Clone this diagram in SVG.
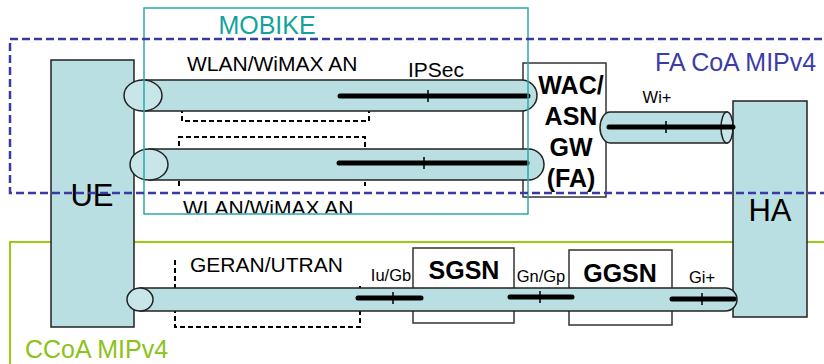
<svg xmlns="http://www.w3.org/2000/svg" width="824" height="364" viewBox="0 0 824 364">
  <style>
    .box { fill: #badfe2; stroke: #222; stroke-width: 1.5; }
    .wbox { fill: #fff; stroke: #333; stroke-width: 1.5; }
    .tube { fill: #badfe2; stroke: #222; stroke-width: 1.5; }
    .cap { fill: #c8e6e9; stroke: #222; stroke-width: 1.5; }
    .pipe { stroke: #000; stroke-width: 5; stroke-linecap: round; fill: none; }
    .tick { stroke: #000; stroke-width: 1.5; }
    .an { fill: none; stroke: #000; stroke-width: 2; stroke-dasharray: 5 3; }
    .t { font-family: "Liberation Sans", Arial, sans-serif; fill: #000; }
    .lbl { font-family: "Liberation Sans", Arial, sans-serif; fill: #000; font-size: 16.5px; text-anchor: middle; }
    .b { font-family: "Liberation Sans", Arial, sans-serif; font-weight: bold; fill: #000; text-anchor: middle; }
  </style>
  <defs>
    <clipPath id="clipLow"><rect x="0" y="0" width="824" height="213.5"/></clipPath>
  </defs>

  <!-- CCoA MIPv4 domain (behind nodes) -->
  <g id="ccoa">
    <rect x="10" y="242" width="830" height="140" fill="none" stroke="#99cc11" stroke-width="2"/>
    <text class="t" x="25" y="358" font-size="25" style="fill:#8cc21a">CCoA MIPv4</text>
  </g>

  <!-- Access network outlines -->
  <g id="access-networks">
    <path class="an" d="M182,100 V121 H369 V100"/>
    <path class="an" d="M179,186 V137 H365 V186"/>
    <path class="an" d="M175,260 V327 H360 V285"/>
    <text class="t" x="187" y="71" font-size="21">WLAN/WiMAX AN</text>
    <text class="t" x="183" y="215" font-size="21" clip-path="url(#clipLow)">WLAN/WiMAX AN</text>
    <text class="t" x="190" y="272" font-size="21">GERAN/UTRAN</text>
  </g>

  <g id="UE">
    <rect class="box" x="51" y="60" width="83" height="267"/>
    <text class="t" x="92" y="206" font-size="31" text-anchor="middle">UE</text>
  </g>

  <g id="HA">
    <rect class="box" x="733" y="101" width="74" height="216"/>
    <text class="t" x="770" y="221" font-size="31" text-anchor="middle">HA</text>
  </g>

  <g id="SGSN">
    <rect class="wbox" x="413" y="248" width="101" height="75"/>
    <text class="b" x="464" y="279" font-size="25">SGSN</text>
  </g>

  <g id="GGSN">
    <rect class="wbox" x="569" y="250" width="103" height="75"/>
    <text class="b" x="620" y="282" font-size="25">GGSN</text>
  </g>

  <g id="WAC">
    <rect class="wbox" x="523" y="63" width="83" height="134"/>
    <text class="b" x="571" y="94" font-size="25">WAC/</text>
    <text class="b" x="571" y="125" font-size="25">ASN</text>
    <text class="b" x="571" y="156" font-size="25">GW</text>
    <text class="b" x="571" y="187" font-size="25">(FA)</text>
  </g>

  <!-- Tunnels -->
  <g id="connectors">
    <!-- WLAN/WiMAX tunnel 1 -->
    <path class="tube" d="M143,80 H521.5 A15.5,15.5 0 0 1 521.5,111 H143 Z"/>
    <ellipse class="cap" cx="143" cy="95.5" rx="19" ry="15.5"/>
    <line class="pipe" x1="340" y1="96" x2="528" y2="96"/>
    <line class="tick" x1="428" y1="90" x2="428" y2="102"/>

    <!-- WLAN/WiMAX tunnel 2 -->
    <path class="tube" d="M149,149 H528.5 A15.5,15.5 0 0 1 528.5,180 H149 Z"/>
    <ellipse class="cap" cx="149" cy="164.5" rx="19" ry="15.5"/>
    <line class="pipe" x1="339" y1="163" x2="527" y2="163"/>
    <line class="tick" x1="424" y1="157" x2="424" y2="169"/>

    <!-- Wi+ tunnel -->
    <path class="tube" d="M727,112 H610 A10,15.5 0 0 0 610,143 H727 Z"/>
    <ellipse class="cap" cx="727" cy="127.5" rx="6" ry="15.5"/>
    <line class="pipe" x1="609" y1="127" x2="733" y2="127"/>
    <line class="tick" x1="666" y1="121" x2="666" y2="133"/>
    <text class="lbl" x="657" y="103">Wi+</text>

    <!-- GERAN/UTRAN tunnel -->
    <path class="tube" d="M140,288 H725.5 A11.5,11.5 0 0 1 725.5,311 H140 Z"/>
    <ellipse class="cap" cx="140" cy="299.5" rx="13" ry="11.5"/>
    <line class="pipe" x1="358" y1="298" x2="421" y2="298"/>
    <line class="tick" x1="393" y1="292" x2="393" y2="304"/>
    <line class="pipe" x1="510" y1="297" x2="572" y2="297"/>
    <line class="tick" x1="540" y1="291" x2="540" y2="303"/>
    <line class="pipe" x1="672" y1="299" x2="734" y2="299"/>
    <line class="tick" x1="702" y1="293" x2="702" y2="305"/>
    <text class="lbl" x="391" y="281">Iu/Gb</text>
    <text class="lbl" x="541" y="282">Gn/Gp</text>
    <text class="lbl" x="702" y="283">Gi+</text>
    <text class="t" x="436" y="77" font-size="21" text-anchor="middle">IPSec</text>
  </g>

  <!-- MOBIKE scope -->
  <g id="mobike">
    <rect x="144" y="8" width="384" height="206" fill="none" stroke="#2aaaa6" stroke-width="1.5"/>
    <text class="t" x="267" y="34" font-size="25" text-anchor="middle" style="fill:#13a39b">MOBIKE</text>
  </g>

  <!-- FA CoA MIPv4 domain (drawn on top) -->
  <g id="facoa">
    <rect x="10" y="39" width="830" height="154" fill="none" stroke="#3a3aa6" stroke-width="2.5" stroke-dasharray="8 4"/>
    <text class="t" x="655" y="71" font-size="25" style="fill:#3c3ca8">FA CoA MIPv4</text>
  </g>
</svg>
